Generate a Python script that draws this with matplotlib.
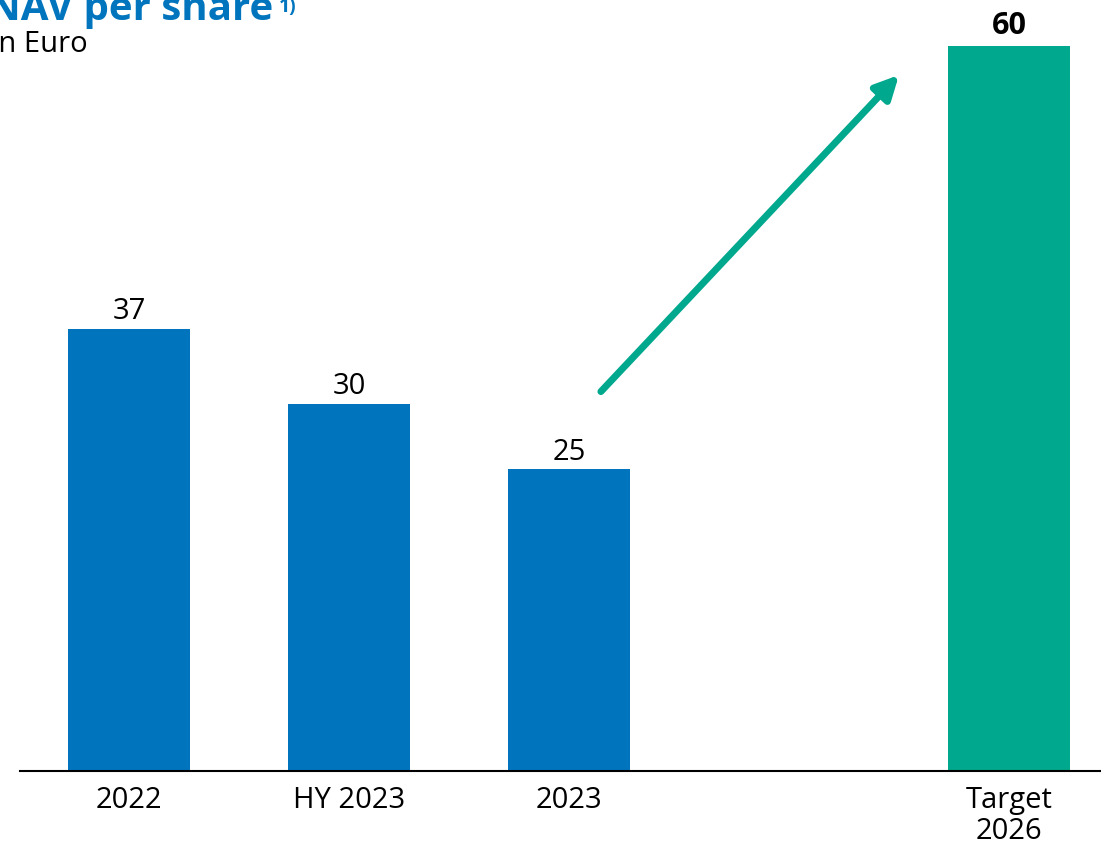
import matplotlib
matplotlib.use('Agg')
import matplotlib.pyplot as plt

categories = ['2022', 'HY 2023', '2023', 'Target\n2026']
positions = [0, 1, 2, 4]
values = [36.6, 30.4, 25.0, 60.0]       # bar heights as drawn
labels = ['37', '30', '25', '60']       # rounded labels shown on the chart
colors = ['#0075BE', '#0075BE', '#0075BE', '#00A88E']

plt.rcParams['font.family'] = ['Open Sans', 'DejaVu Sans']

fig = plt.figure(figsize=(11.01, 8.44), dpi=100)
ax = fig.add_axes([20/1101, 73/844, 1081/1101, 725/844])

ax.bar(positions, values, width=0.555, color=colors)
ax.set_xlim((20-129)/220, (1101-129)/220)
ax.set_ylim(0, 60)

for x, v, lab in zip(positions, values, labels):
    if lab == '60':
        ax.text(x, v + 0.4, lab, ha='center', va='bottom', fontsize=22,
                fontweight='bold', clip_on=False)
    else:
        ax.text(x, v + 0.2, lab, ha='center', va='bottom', fontsize=21,
                clip_on=False)

# growth arrow
ax.annotate('', xy=(3.5, 57.6), xytext=(2.145, 31.4),
            arrowprops=dict(arrowstyle='-|>,head_length=1.4,head_width=0.7',
                            color='#00A88E', lw=5, shrinkA=0, shrinkB=0),
            annotation_clip=False)

ax.set_xticks(positions)
ax.set_xticklabels(categories, fontsize=21, linespacing=1.06)
ax.tick_params(axis='x', length=0, pad=11)
ax.set_yticks([])
for s in ['top', 'right', 'left']:
    ax.spines[s].set_visible(False)
ax.spines['bottom'].set_linewidth(1.5)

fig.text(-12/1101, 1 - 20/844, 'NAV per share', color='#0075BE',
         fontsize=29, fontweight='bold', ha='left', va='baseline')
fig.text(279/1101, 1 - 12/844, '1)', color='#0075BE',
         fontsize=14, fontweight='bold', ha='left', va='baseline')
fig.text(-9/1101, 1 - 52/844, 'in Euro', fontsize=21, ha='left', va='baseline')

fig.savefig('out.png', dpi=100)
